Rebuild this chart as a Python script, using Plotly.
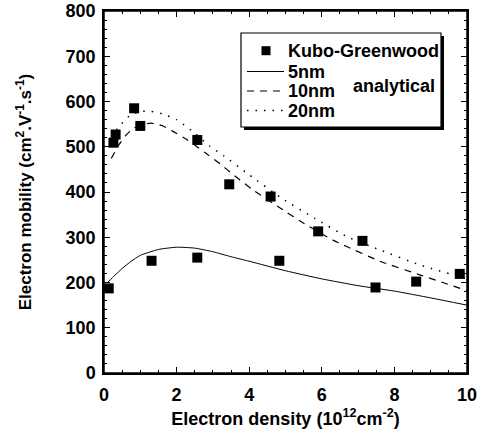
import plotly.graph_objects as go

# Kubo-Greenwood points
kg_x = [0.13, 0.26, 0.32, 0.83, 1.0, 1.31, 2.57, 2.57, 3.45, 4.59, 4.83, 5.90, 7.12, 7.48, 8.60, 9.80]
kg_y = [187, 509, 527, 585, 546, 248, 515, 255, 417, 390, 248, 313, 292, 189, 202, 219]

# analytical curves
nm5_x = [0.1, 0.3, 0.5, 0.75, 1.0, 1.5, 2.0, 2.5, 3.0, 3.5, 4.0, 5.0, 6.0, 7.0, 8.0, 9.0, 10.0]
nm5_y = [200, 216, 231, 247, 260, 273, 278, 276, 268, 257, 247, 226, 208, 193, 181, 166, 150]

nm10_x = [0.2, 0.4, 0.6, 0.8, 1.0, 1.3, 1.6, 1.9, 2.3, 2.8, 3.2, 3.6, 4.1, 5.0, 5.4, 6.3, 6.7, 7.6, 8.7, 10.0]
nm10_y = [474, 503, 525, 540, 548, 552, 547, 534, 515, 486, 462, 436, 405, 357, 336, 294, 279, 247, 217, 182]

nm20_x = [0.2, 0.45, 0.7, 1.0, 1.3, 1.6, 2.0, 2.5, 2.9, 3.3, 4.0, 4.9, 5.8, 6.7, 7.6, 8.7, 10.0]
nm20_y = [522, 548, 568, 578, 578, 573, 560, 530, 502, 480, 438, 386, 342, 301, 272, 239, 208]

legend_labels = ["Kubo-Greenwood", "5nm", "10nm", "20nm"]

FONT = "Liberation Sans, Arial, sans-serif"
DASH10 = "7px,6px"
DOT20 = "1.5px,7px"

fig = go.Figure()
fig.add_trace(go.Scatter(x=kg_x, y=kg_y, mode="markers", name=legend_labels[0],
                         marker=dict(symbol="square", size=10, color="black")))
fig.add_trace(go.Scatter(x=nm5_x, y=nm5_y, mode="lines", name=legend_labels[1],
                         line=dict(color="black", width=1, shape="spline", smoothing=0.5)))
fig.add_trace(go.Scatter(x=nm10_x, y=nm10_y, mode="lines", name=legend_labels[2],
                         line=dict(color="black", width=1.2, dash=DASH10, shape="spline", smoothing=0.5)))
fig.add_trace(go.Scatter(x=nm20_x, y=nm20_y, mode="lines", name=legend_labels[3],
                         line=dict(color="black", width=1.5, dash=DOT20, shape="spline", smoothing=0.5)))

axis_common = dict(
    showline=True, linecolor="black", linewidth=1.5, mirror="allticks",
    ticks="inside", ticklen=6, tickwidth=1, tickcolor="black",
    showgrid=False, zeroline=False, automargin=False,
    tickfont=dict(family=FONT, size=18, color="black", weight="bold"),
)

fig.update_xaxes(range=[0, 10], tick0=0, dtick=2, ticklabelstandoff=5,
                 minor=dict(ticks="inside", ticklen=3, dtick=0.5, tickcolor="black", showgrid=False),
                 title=dict(text="Electron density (10<sup>12</sup>cm<sup>-2</sup>)",
                            font=dict(family=FONT, size=18, color="black", weight="bold"), standoff=8),
                 **axis_common)
fig.update_yaxes(range=[0, 800], tick0=0, dtick=100, ticklabelstandoff=3,
                 minor=dict(ticks="inside", ticklen=3, dtick=20, tickcolor="black", showgrid=False),
                 title=dict(text="Electron mobility (cm<sup>2</sup>.V<sup>-1</sup>.s<sup>-1</sup>)",
                            font=dict(family=FONT, size=17, color="black", weight="bold"), standoff=30),
                 **axis_common)

# plot frame
fig.add_shape(type="rect", xref="paper", yref="paper", x0=0, x1=1, y0=0, y1=1,
              line=dict(color="black", width=1.5), layer="above")

# manual legend box with shadow
px = lambda p: (p - 104) / 363
py = lambda p: (373 - p) / 362
fig.add_shape(type="rect", xref="paper", yref="paper",
              x0=px(244), x1=px(444), y0=py(130), y1=py(36),
              fillcolor="black", line=dict(width=0), layer="above")
fig.add_shape(type="rect", xref="paper", yref="paper",
              x0=px(241), x1=px(441), y0=py(127), y1=py(33),
              fillcolor="white", line=dict(color="black", width=1.2), layer="above")
rows = [50.7, 71.5, 91, 110.5]
fig.add_shape(type="rect", xref="paper", yref="paper",
              x0=px(261.5), x1=px(270.5), y0=py(rows[0] + 4.5), y1=py(rows[0] - 4.5),
              fillcolor="black", line=dict(width=0), layer="above")
for r, d, w in [(rows[1], "solid", 1), (rows[2], DASH10, 1.2), (rows[3], DOT20, 1.5)]:
    fig.add_shape(type="line", xref="paper", yref="paper",
                  x0=px(247), x1=px(284), y0=py(r), y1=py(r),
                  line=dict(color="black", width=w, dash=d), layer="above")
for r, lab in zip(rows, legend_labels):
    fig.add_annotation(xref="paper", yref="paper", x=px(286), y=py(r),
                       xanchor="left", yanchor="middle", text=lab, showarrow=False,
                       font=dict(family=FONT, size=18, color="black", weight="bold"))
fig.add_annotation(xref="paper", yref="paper", x=px(394), y=py(86),
                   xanchor="center", yanchor="middle",
                   text="analytical", showarrow=False,
                   font=dict(family=FONT, size=18, color="black", weight="bold"))

fig.update_layout(
    width=487, height=435,
    margin=dict(l=104, r=20, t=11, b=62),
    plot_bgcolor="white", paper_bgcolor="white",
    showlegend=False,
)

# remove the page's default 8px body margin so the figure sits at the window origin
fig.write_html("out.html", config={"displayModeBar": False},
               post_script="document.body.style.margin='0px';")
